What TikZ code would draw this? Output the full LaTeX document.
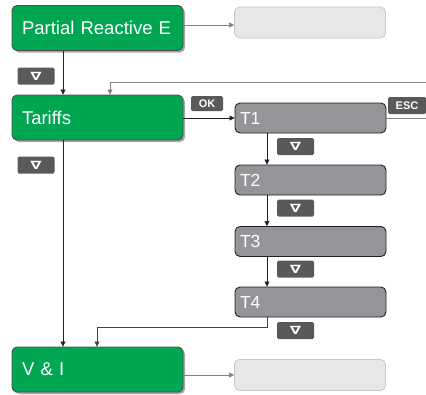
\documentclass[tikz,border=0pt]{standalone}
\usepackage{fontspec}
\usepackage{graphicx}
\setmainfont{Liberation Sans}
\newfontfamily\symfont{DejaVu Sans}
\usetikzlibrary{arrows.meta,shadows,positioning,calc}
\definecolor{sgreen}{HTML}{00A651}
\definecolor{tgray}{HTML}{939598}
\definecolor{lgray}{HTML}{E6E7E8}
\definecolor{lborder}{HTML}{C7C8CA}
\definecolor{kgray}{HTML}{58595B}
\definecolor{lnk}{HTML}{231F20}
\definecolor{glnk}{HTML}{808285}
\newcommand{\downsym}{\scalebox{1.35}[0.95]{∇}}
\tikzset{
  greenbox/.style={draw=lnk!80, line width=0.9pt, fill=sgreen, rounded corners=5pt,
    minimum height=45pt, text width=151pt, inner xsep=10pt, inner ysep=0pt, align=left,
    text=white, font=\fontsize{18.5}{20}\selectfont,
    drop shadow={shadow xshift=2pt, shadow yshift=-2pt, opacity=0.35, fill=black}},
  tbox/.style={draw=lnk, line width=0.9pt, fill=tgray, rounded corners=5pt,
    minimum height=30pt, text width=141pt, inner xsep=5pt, inner ysep=0pt, align=left,
    text=white, font=\fontsize{17.5}{19}\selectfont},
  emptybox/.style={draw=lborder, line width=0.8pt, fill=lgray, rounded corners=5pt,
    minimum height=31pt, minimum width=151pt, inner sep=0pt},
  keybox/.style={fill=kgray, rounded corners=1.5pt, minimum width=37pt, minimum height=17pt,
    inner sep=0pt, text=white, font=\bfseries\fontsize{11}{12}\selectfont},
  downkey/.style={keybox, font=\symfont\bfseries\fontsize{12}{12}\selectfont},
  link/.style={draw=lnk, line width=0.6pt, -{Triangle[length=5pt,width=5pt]}},
  glink/.style={draw=glnk, line width=0.6pt, -{Triangle[length=5pt,width=5pt]}},
  plain/.style={draw=glnk, line width=0.6pt},
}
\begin{document}
\begin{tikzpicture}[x=1pt,y=-1pt]
\useasboundingbox (0,0) rectangle (426,394);
% green menu boxes
\node[greenbox] (pre) at (97.5,28) {Partial Reactive E};
\node[greenbox] (tar) at (97.5,117.5) {Tariffs};
\node[greenbox] (vi) at (97.5,369.5) {V \& I};
% empty boxes
\node[emptybox] (preb) at (310,22.5) {};
\node[emptybox] (vib) at (310,375) {};
% tariff boxes
\node[tbox] (t1) at (310.5,118) {T1};
\node[tbox] (t2) at (310.5,180) {T2};
\node[tbox] (t3) at (310.5,241.5) {T3};
\node[tbox] (t4) at (310.5,302) {T4};
% key labels
\node[downkey] (k1) at (36,76) {\downsym};
\node[downkey] (k2) at (36,165) {\downsym};
\node[keybox, minimum width=32pt, minimum height=15pt] (ok) at (207,103.5) {OK};
\node[keybox, minimum width=38pt] (esc) at (407,105.5) {ESC};
\node[downkey] (k3) at (295.5,146.5) {\downsym};
\node[downkey] (k4) at (295.5,208) {\downsym};
\node[downkey] (k5) at (295.5,269) {\downsym};
\node[downkey] (k6) at (295.5,330.5) {\downsym};
% coordinates
\coordinate (escR) at (426,118);
\coordinate (fbR) at (426,82);
\coordinate (fbL) at (110,82);
\coordinate (t4c) at (267,327);
\coordinate (t4l) at (97,327);
% connectors
\draw[glink] ([yshift=3pt]pre.east) -- ([yshift=3pt]pre.east -| preb.west);
\draw[glink] (vi.east |- vib.west) -- (vib.west);
\draw[link] (pre.south -| 63,0) -- (tar.north -| 63,0);
\draw[link] (tar.south -| 63,0) -- (vi.north -| 63,0);
\draw[link] (tar.east |- t1.west) -- (t1.west);
\draw[plain] (t1.east) -- (escR);
\draw[glink] (fbR) -- (fbL) -- (tar.north -| fbL);
\draw[link] (t1.south -| t4c) -- (t2.north -| t4c);
\draw[link] (t2.south -| t4c) -- (t3.north -| t4c);
\draw[link] (t3.south -| t4c) -- (t4.north -| t4c);
\draw[link, draw=lnk!85] (t4.south -| t4c) -- (t4c) -- (t4l) -- (vi.north -| t4l);
\end{tikzpicture}
\end{document}
